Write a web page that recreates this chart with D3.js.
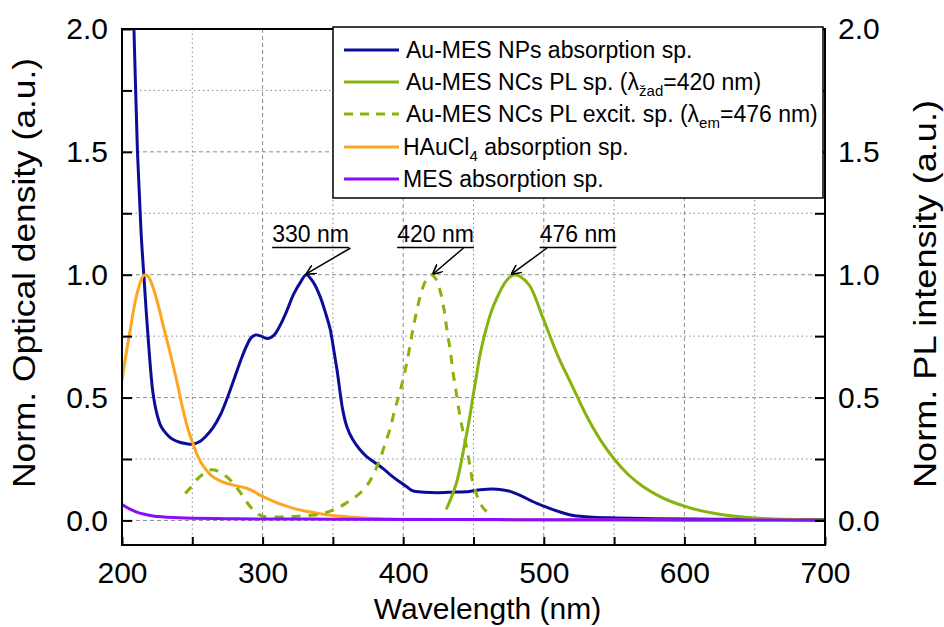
<!DOCTYPE html>
<html><head><meta charset="utf-8">
<script src="https://cdn.jsdelivr.net/npm/d3@7"></script>
<style>
body{margin:0;background:#fff;}
svg{display:block;font-family:"Liberation Sans",Arial,sans-serif;}
</style></head>
<body><svg id="c" width="944" height="627"></svg>
<script>
// ---- data ----
const npWl = [203,206,208.5,211,213.5,215.5,218.5,222,225,228,232,236,241,246,250,255,260,265,270,275,280,285,289,292,295,299,303,306,309,313,317,322,327,331,336,341,345,348,351,353,357,360,364,369,374,380,386,392,398,403,407,415,424,435,447,455,464,470,476,484,492,500,506,514,521,535,552,580,620,660,700];
const npOD = [2.9,2.45,2.0,1.5,1.18,1.0,0.75,0.52,0.43,0.38,0.35,0.33,0.318,0.312,0.31,0.32,0.345,0.38,0.43,0.50,0.58,0.66,0.715,0.745,0.755,0.75,0.74,0.745,0.76,0.80,0.85,0.92,0.97,1.0,0.97,0.91,0.84,0.78,0.68,0.61,0.45,0.38,0.33,0.29,0.26,0.235,0.21,0.18,0.155,0.135,0.12,0.115,0.113,0.115,0.118,0.125,0.128,0.125,0.118,0.1,0.077,0.058,0.045,0.03,0.02,0.013,0.01,0.007,0.005,0.004,0.003];

const plWl = [431,434,438,441,444,447,449.5,452,454.5,457,459.5,463,467,470.5,474,477,480,484,490,500,510,520,530,540,550,560,570,580,590,600,610,620,630,640,650,660,670,685,700];
const plI  = [0.05,0.09,0.155,0.23,0.32,0.41,0.50,0.585,0.67,0.735,0.79,0.855,0.91,0.95,0.98,0.995,1.0,0.99,0.955,0.815,0.67,0.55,0.43,0.33,0.25,0.187,0.14,0.105,0.078,0.058,0.042,0.03,0.021,0.015,0.01,0.007,0.005,0.003,0.002];

const exWl = [245,249,253,258,262,266,270,275,280,284,288,293,297,300,308,317,325,333,341,348,354,360,367,374,379,383.5,387,390.5,394,398,402.5,407,412,416,420,423,426,429,431,433.5,435.5,438,440.5,443,445,447.5,449.5,452,454.5,457,460];
const exI  = [0.11,0.135,0.165,0.19,0.205,0.205,0.195,0.175,0.145,0.115,0.08,0.045,0.025,0.017,0.014,0.015,0.017,0.02,0.025,0.038,0.052,0.073,0.1,0.14,0.19,0.25,0.31,0.37,0.45,0.53,0.64,0.78,0.91,0.975,1.0,0.985,0.94,0.86,0.78,0.69,0.60,0.51,0.42,0.35,0.30,0.22,0.155,0.11,0.073,0.05,0.032];

const auWl = [200,203,206,209,212,215,217,219,222,226,229,233,236,240,243,247,250,254,258,264,270,276,282,288,293,299,305,311,317,324,331,340,350,364,380,400,450,500,600,700];
const auOD = [0.57,0.68,0.78,0.88,0.95,0.995,1.0,0.99,0.95,0.87,0.80,0.71,0.64,0.54,0.46,0.37,0.32,0.26,0.22,0.18,0.16,0.148,0.14,0.132,0.12,0.1,0.085,0.07,0.058,0.046,0.037,0.028,0.02,0.013,0.008,0.005,0.003,0.002,0.001,0.001];

const mesWl = [200,205,210,216,222,230,240,250,275,300,350,400,500,600,700];
const mesOD = [0.065,0.048,0.035,0.025,0.018,0.014,0.011,0.009,0.007,0.006,0.005,0.004,0.003,0.002,0.001];

const xTicks = [200,300,400,500,600,700];
const xMinor = [250,350,450,550,650];
const yTicks = [0.0,0.5,1.0,1.5,2.0];
const yMinor = [0.25,0.75,1.25,1.75];

const peaks = [{wl:330,v:1.0,label:"330 nm"},{wl:420,v:1.0,label:"420 nm"},{wl:476,v:1.0,label:"476 nm"}];

// ---- layout ----
const svg = d3.select("#c");
const L=122, R=825, T=29, B=545;
const x = d3.scaleLinear().domain([200,700]).range([L,R]);
const y = d3.scaleLinear().domain([-0.1,2.0]).range([B,T]);

const C = {np:"#0c0c9a", pl:"#86b30c", au:"#fda622", mes:"#8a0cff"};

svg.append("defs").append("clipPath").attr("id","clip")
  .append("rect").attr("x",L).attr("y",T).attr("width",R-L).attr("height",B-T);

// grid
const grid = svg.append("g").attr("stroke","#8c8c8c").attr("stroke-width",1).attr("fill","none");
xTicks.filter(v=>v>200&&v<700).forEach(v=>grid.append("line").attr("x1",x(v)).attr("x2",x(v)).attr("y1",T).attr("y2",B).attr("stroke-dasharray","4,3"));
xMinor.forEach(v=>grid.append("line").attr("x1",x(v)).attr("x2",x(v)).attr("y1",T).attr("y2",B).attr("stroke-dasharray","1.5,3"));
yTicks.filter(v=>v<2).forEach(v=>grid.append("line").attr("x1",L).attr("x2",R).attr("y1",y(v)).attr("y2",y(v)).attr("stroke-dasharray","4,3"));
yMinor.forEach(v=>grid.append("line").attr("x1",L).attr("x2",R).attr("y1",y(v)).attr("y2",y(v)).attr("stroke-dasharray","1.5,3"));

// curves
const line = d3.line().x(d=>x(d[0])).y(d=>y(d[1])).curve(d3.curveCatmullRom.alpha(0.5));
const zip = (a,b)=>a.map((v,i)=>[v,b[i]]);
const cg = svg.append("g").attr("clip-path","url(#clip)").attr("fill","none").attr("stroke-width",3).attr("stroke-linejoin","round").attr("stroke-linecap","round");
cg.append("path").attr("d",line(zip(npWl,npOD))).attr("stroke",C.np);
cg.append("path").attr("d",line(zip(auWl,auOD))).attr("stroke",C.au);
cg.append("path").attr("d",line(zip(plWl,plI))).attr("stroke",C.pl);
cg.append("path").attr("d",line(zip(exWl,exI))).attr("stroke",C.pl).attr("stroke-dasharray","9,8").attr("stroke-linecap","butt");
cg.append("path").attr("d",line(zip(mesWl,mesOD))).attr("stroke",C.mes);

// axes
const fs = "30px";
const ax = (g)=>{g.select(".domain").remove(); g.selectAll("text").attr("font-size",fs).attr("fill","#000").attr("font-family","Liberation Sans, Arial, sans-serif"); g.selectAll("line").attr("stroke","#000").attr("stroke-width",2);};
svg.append("g").attr("transform",`translate(${L},0)`).call(d3.axisLeft(y).tickValues(yTicks).tickFormat(d3.format(".1f")).tickSizeInner(-10).tickSizeOuter(0).tickPadding(14)).call(ax);
svg.append("g").attr("transform",`translate(${L},0)`).call(d3.axisLeft(y).tickValues(yMinor).tickFormat("").tickSizeInner(-10).tickSizeOuter(0)).call(ax);
svg.append("g").attr("transform",`translate(${R},0)`).call(d3.axisRight(y).tickValues(yTicks).tickFormat(d3.format(".1f")).tickSizeInner(-10).tickSizeOuter(0).tickPadding(13)).call(ax);
svg.append("g").attr("transform",`translate(${R},0)`).call(d3.axisRight(y).tickValues(yMinor).tickFormat("").tickSizeInner(-10).tickSizeOuter(0)).call(ax);
svg.append("g").attr("transform",`translate(0,${B})`).call(d3.axisBottom(x).tickValues(xTicks).tickFormat(d3.format("d")).tickSizeInner(-8).tickSizeOuter(0).tickPadding(17)).call(ax);
svg.append("g").attr("transform",`translate(0,${B})`).call(d3.axisBottom(x).tickValues(xMinor).tickFormat("").tickSizeInner(-8).tickSizeOuter(0)).call(ax);

// frame
svg.append("rect").attr("x",L).attr("y",T).attr("width",R-L).attr("height",B-T).attr("fill","none").attr("stroke","#000").attr("stroke-width",2);

// titles
svg.append("text").attr("x",(L+R)/2+14).attr("y",619).attr("text-anchor","middle").attr("font-size","30px").text("Wavelength (nm)");
svg.append("text").attr("transform","translate(35,273) rotate(-90)").attr("text-anchor","middle").attr("font-size","31px")
  .attr("textLength",430).attr("lengthAdjust","spacingAndGlyphs").text("Norm. Optical density (a.u.)");
svg.append("text").attr("transform","translate(936,294) rotate(-90)").attr("text-anchor","middle").attr("font-size","31px")
  .attr("textLength",388).attr("lengthAdjust","spacingAndGlyphs").text("Norm. PL intensity (a.u.)");

// annotations
svg.append("defs").append("marker").attr("id","arr").attr("viewBox","0 0 10 10").attr("refX",9).attr("refY",5)
  .attr("markerWidth",10).attr("markerHeight",10).attr("markerUnits","userSpaceOnUse").attr("orient","auto")
  .append("path").attr("d","M0,0 L10,5 L0,10").attr("fill","none").attr("stroke","#000").attr("stroke-width",1.6);
const annX = [310.5, 435.5, 578];
const annStartDx = [40, 28, -31];
peaks.forEach((p,i)=>{
  const t = svg.append("text").attr("x",annX[i]).attr("y",242).attr("text-anchor","middle").attr("font-size","23px").text(p.label);
  const w = t.node().getComputedTextLength();
  svg.append("line").attr("x1",annX[i]-w/2).attr("x2",annX[i]+w/2).attr("y1",247.5).attr("y2",247.5).attr("stroke","#000").attr("stroke-width",1.5);
  svg.append("line").attr("x1",annX[i]+annStartDx[i]).attr("y1",248).attr("x2",x(p.wl)+2).attr("y2",y(p.v)-1)
    .attr("stroke","#000").attr("stroke-width",1.5).attr("marker-end","url(#arr)");
});

// legend
const lg = svg.append("g");
lg.append("rect").attr("x",333).attr("y",27).attr("width",490).attr("height",171).attr("fill","#fff").attr("stroke","#000").attr("stroke-width",1.5);
const legendColors = [C.np, C.pl, C.pl, C.au, C.mes];
const legendDash = [null, null, "9,7", null, null];
const rows = [58,90,122,155,187];
const legendLabels = [
  [["Au-MES NPs absorption sp.",0,23]],
  [["Au-MES NCs PL sp. (λ",0,23],["žad",6,15],["=420 nm)",-6,23]],
  [["Au-MES NCs PL excit. sp. (λ",0,23],["em",6,15],["=476 nm)",-6,23]],
  [["HAuCl",0,23],["4",6,15],[" absorption sp.",-6,23]],
  [["MES absorption sp.",0,23]]
];
legendLabels.forEach((parts,i)=>{
  const yy = rows[i];
  const ln = lg.append("line").attr("x1",344).attr("x2",399).attr("y1",yy-8).attr("y2",yy-8).attr("stroke",legendColors[i]).attr("stroke-width",3);
  if(legendDash[i]) ln.attr("stroke-dasharray",legendDash[i]);
  const t = lg.append("text").attr("x",i>=3?403:406).attr("y",yy).attr("font-size","23px");
  parts.forEach(p=>t.append("tspan").attr("dy",p[1]).attr("font-size",p[2]+"px").text(p[0]));
});
</script></body></html>
